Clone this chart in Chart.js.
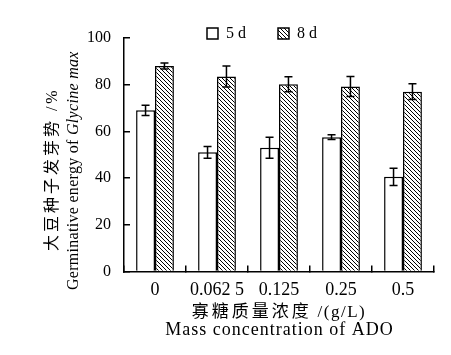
<!DOCTYPE html>
<html><head><meta charset="utf-8">
<script src="https://cdn.jsdelivr.net/npm/chart.js@4"></script>
<style>html,body{margin:0;padding:0;background:#fff}</style>
</head><body>
<canvas id="c" width="451" height="355" style="display:block;width:451px;height:355px"></canvas>
<script>
const categories = ['0', '0.062 5', '0.125', '0.25', '0.5'];
const seriesNames = ['5 d', '8 d'];
const values5d = [69, 51, 53, 57.5, 40.5];
const errors5d = [2.2, 2.5, 4.5, 1.0, 3.7];
const values8d = [88, 83.5, 80.2, 79.2, 77];
const errors8d = [1.3, 4.5, 3.2, 4.3, 3.4];
const yTicks = [0, 20, 40, 60, 80, 100];
const yTitleCN = '大豆种子发芽势 /%';
const yTitleEN = ['Germinative energy of ', 'Glycine max'];
const xTitleCN = ['寡糖质量浓度', ' /(g/L)'];
const xTitleEN = 'Mass concentration of ADO';

const FONT = "'Liberation Serif', 'Noto Sans CJK SC', serif";

function hatchPattern() {
  const s = 4;
  const c = document.createElement('canvas');
  c.width = s; c.height = s;
  const g = c.getContext('2d');
  g.fillStyle = '#fff'; g.fillRect(0, 0, s, s);
  g.strokeStyle = '#000'; g.lineWidth = 1;
  g.beginPath();
  g.moveTo(-1, -1); g.lineTo(s + 1, s + 1);
  g.moveTo(-1, s - 1); g.lineTo(1, s + 1);
  g.moveTo(s - 1, -1); g.lineTo(s + 1, 1);
  g.stroke();
  return g.createPattern(c, 'repeat');
}

const errorBars = {
  id: 'errorBars',
  afterDatasetsDraw(chart) {
    const ctx = chart.ctx, y = chart.scales.y;
    chart.data.datasets.forEach((ds, i) => {
      const meta = chart.getDatasetMeta(i);
      meta.data.forEach((bar, j) => {
        const v = ds.data[j], e = ds.errors[j];
        const x = bar.x, t = y.getPixelForValue(v + e), b = y.getPixelForValue(v - e);
        ctx.save();
        ctx.strokeStyle = '#000'; ctx.lineWidth = 1.5;
        ctx.beginPath();
        ctx.moveTo(x, t); ctx.lineTo(x, b);
        ctx.moveTo(x - 4, t); ctx.lineTo(x + 4, t);
        ctx.moveTo(x - 4, b); ctx.lineTo(x + 4, b);
        ctx.stroke();
        ctx.restore();
      });
    });
  }
};

const legendPlace = {
  id: 'legendPlace',
  afterLayout(chart) {
    const l = chart.legend, a = chart.chartArea;
    const pad = l.options.labels.padding;
    l.left = a.left + 83 - pad;
    l.right = l.left + 400;
    l.top = a.top - 10 - 2.5 - pad;
    l.bottom = l.top + 80;
  }
};

const axisTitles = {
  id: 'axisTitles',
  afterDraw(chart) {
    const ctx = chart.ctx, a = chart.chartArea;
    const cx = (a.left + a.right) / 2;
    ctx.save();
    ctx.fillStyle = '#000';
    ctx.textBaseline = 'middle';
    ctx.textAlign = 'left';
    ctx.font = "17px " + FONT;
    ctx.letterSpacing = '3px';
    const c1 = ctx.measureText(xTitleCN[0]).width;
    ctx.letterSpacing = '1.5px';
    const c2 = ctx.measureText(xTitleCN[1]).width;
    const sx = cx - (c1 + c2) / 2;
    ctx.letterSpacing = '3px';
    ctx.fillText(xTitleCN[0], sx, a.bottom + 41);
    ctx.letterSpacing = '1.5px';
    ctx.fillText(xTitleCN[1], sx + c1, a.bottom + 41);
    ctx.textAlign = 'center';
    ctx.font = "18px " + FONT;
    ctx.letterSpacing = '1px';
    ctx.fillText(xTitleEN, cx + 0.5, a.bottom + 59);
    ctx.restore();

    const cy = (a.top + a.bottom) / 2 + 16;
    ctx.save();
    ctx.fillStyle = '#000';
    ctx.textBaseline = 'middle';
    ctx.translate(a.left - 71, cy);
    ctx.rotate(-Math.PI / 2);
    ctx.textAlign = 'center';
    ctx.font = "16px " + FONT;
    ctx.letterSpacing = '3px';
    ctx.fillText(yTitleCN, 1.5, 0);
    ctx.restore();

    ctx.save();
    ctx.fillStyle = '#000';
    ctx.textBaseline = 'middle';
    ctx.translate(a.left - 50, cy);
    ctx.rotate(-Math.PI / 2);
    ctx.textAlign = 'left';
    ctx.letterSpacing = '0.3px';
    ctx.font = "16px " + FONT;
    const w1 = ctx.measureText(yTitleEN[0]).width;
    ctx.font = "italic 16px " + FONT;
    const w2 = ctx.measureText(yTitleEN[1]).width;
    const start = -(w1 + w2) / 2;
    ctx.font = "16px " + FONT;
    ctx.fillText(yTitleEN[0], start, 0);
    ctx.font = "italic 16px " + FONT;
    ctx.fillText(yTitleEN[1], start + w1, 0);
    ctx.restore();
  }
};

const hatch = hatchPattern();

new Chart(document.getElementById('c'), {
  type: 'bar',
  data: {
    labels: categories,
    datasets: [
      { label: seriesNames[0], data: values5d, errors: errors5d,
        backgroundColor: '#fff', borderColor: '#000', borderWidth: 1.5 },
      { label: seriesNames[1], data: values8d, errors: errors8d,
        backgroundColor: hatch, borderColor: '#000', borderWidth: 1.5 }
    ]
  },
  options: {
    responsive: false,
    animation: false,
    devicePixelRatio: 1,
    layout: { padding: { top: 37, right: 17, bottom: 40, left: 68 } },
    datasets: { bar: { categoryPercentage: 0.61, barPercentage: 1.0 } },
    plugins: {
      legend: {
        position: 'top', align: 'start', fullSize: false, maxHeight: 1,
        labels: { boxWidth: 11, boxHeight: 11, padding: 32, color: '#000',
          font: { family: FONT, size: 16 } }
      },
      tooltip: { enabled: false },
      title: { display: false }
    },
    scales: {
      x: {
        grid: { display: true, drawOnChartArea: false, drawTicks: true, tickLength: -6,
          color: '#000', lineWidth: 1.5, offset: true },
        border: { display: true, color: '#000', width: 1.5 },
        ticks: { color: '#000', padding: 14, font: { family: FONT, size: 18 }, maxRotation: 0, autoSkip: false }
      },
      y: {
        min: 0, max: 100,
        afterBuildTicks: s => { s.ticks = yTicks.map(v => ({ value: v })); },
        grid: { display: true, drawOnChartArea: false, drawTicks: true, tickLength: -6,
          color: '#000', lineWidth: 1.5 },
        border: { display: true, color: '#000', width: 1.5 },
        ticks: { color: '#000', padding: 19, font: { family: FONT, size: 16 } }
      }
    }
  },
  plugins: [errorBars, legendPlace, axisTitles]
});
</script>
</body></html>
